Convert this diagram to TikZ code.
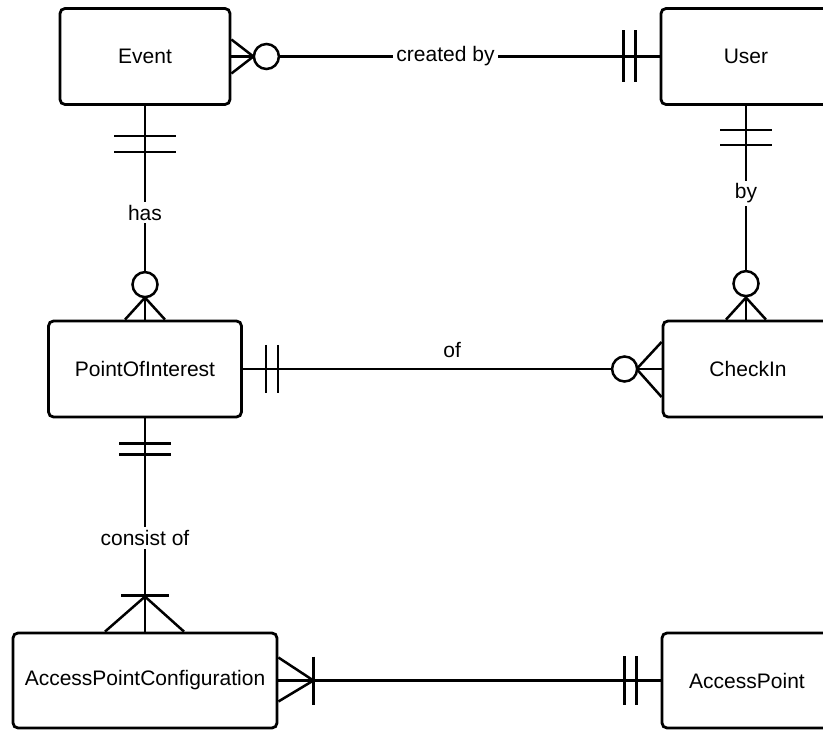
\documentclass[tikz,border=0pt]{standalone}
\usepackage{fontspec}
\setmainfont{Liberation Sans}
\usetikzlibrary{calc}
\begin{document}
\begin{tikzpicture}[x=1pt,y=-1pt,
  entity/.style={draw, rounded corners=5pt, minimum width=170pt, minimum height=96pt,
    inner sep=0pt, line width=2.8pt, font=\fontsize{21}{25}\selectfont},
  rel/.style={draw, line width=2.5pt},
  lbl/.style={fill=white, inner sep=3pt, font=\fontsize{21}{25}\selectfont},
  ring/.style={draw, fill=white, line width=2.5pt}]
\useasboundingbox (0,0) rectangle (823,730);

% entities
\node[entity] (ev)  at (145,56.5)  {Event};
\node[entity] (us)  at (746,56.5)  {User};
\node[entity, minimum width=193pt] (poi) at (145,369) {PointOfInterest};
\node[entity] (ci)  at (748,369)   {CheckIn};
\node[entity, minimum width=264pt, minimum height=95pt] (apc) at (145,680.5) {AccessPointConfiguration};
\node[entity, minimum height=95pt] (ap) at (747,680.5) {AccessPoint};

% Event (zero or many) -- User (exactly one)
\draw[rel] (ev.east) -- node[lbl]{created by} (us.west);
\draw[rel] ($(ev.east)+(0,-17)$) -- ($(ev.east)+(22,0)$) -- ($(ev.east)+(0,17)$);
\draw[ring] ($(ev.east)+(35,0)$) circle (12.5pt);
\draw[rel] ($(us.west)+(-36,-26)$) -- ++(0,52);
\draw[rel] ($(us.west)+(-24,-26)$) -- ++(0,52);

% Event (exactly one) -- PointOfInterest (zero or many)
\draw[rel] (ev.south) -- node[lbl, pos=0.5]{has} (poi.north);
\draw[rel] ($(ev.south)+(-31,30)$) -- ++(62,0);
\draw[rel] ($(ev.south)+(-31,46)$) -- ++(62,0);
\draw[rel] ($(poi.north)+(-20,0)$) -- ($(poi.north)+(0,-22)$) -- ($(poi.north)+(20,0)$);
\draw[ring] ($(poi.north)+(0,-35)$) circle (12.5pt);

% User (exactly one) -- CheckIn (zero or many)
\draw[rel] (us.south) -- node[lbl, pos=0.41]{by} (us.south |- ci.north);
\draw[rel] ($(us.south)+(-26,24)$) -- ++(52,0);
\draw[rel] ($(us.south)+(-26,39)$) -- ++(52,0);
\coordinate (cit) at (us.south |- ci.north);
\draw[rel] ($(cit)+(-20,0)$) -- ($(cit)+(0,-22)$) -- ($(cit)+(20,0)$);
\draw[ring] ($(cit)+(0,-36)$) circle (12.5pt);

% PointOfInterest (exactly one) -- CheckIn (zero or many)
\draw[rel] (poi.east) -- node[midway, yshift=19pt, font=\fontsize{21}{25}\selectfont]{of} (ci.west);
\draw[rel] ($(poi.east)+(23,-24)$) -- ++(0,48);
\draw[rel] ($(poi.east)+(35,-24)$) -- ++(0,48);
\draw[rel] ($(ci.west)+(0,-27)$) -- ($(ci.west)+(-25,0)$) -- ($(ci.west)+(0,28)$);
\draw[ring] ($(ci.west)+(-37,0)$) circle (12.5pt);

% PointOfInterest (exactly one) -- AccessPointConfiguration (one or many)
\draw[rel] (poi.south) -- node[lbl, pos=0.56]{consist of} (apc.north);
\draw[rel] ($(poi.south)+(-26,25)$) -- ++(52,0);
\draw[rel] ($(poi.south)+(-26,36)$) -- ++(52,0);
\draw[rel] ($(apc.north)+(-40,0)$) -- ($(apc.north)+(0,-35)$) -- ($(apc.north)+(39,0)$);
\draw[rel] ($(apc.north)+(-24,-36)$) -- ++(48,0);

% AccessPointConfiguration (one or many) -- AccessPoint (exactly one)
\draw[rel] (apc.east) -- (ap.west);
\draw[rel] ($(apc.east)+(0,-23)$) -- ($(apc.east)+(35,0)$) -- ($(apc.east)+(0,21)$);
\draw[rel] ($(apc.east)+(35,-24)$) -- ++(0,48);
\draw[rel] ($(ap.west)+(-36,-24.5)$) -- ++(0,49);
\draw[rel] ($(ap.west)+(-24,-24.5)$) -- ++(0,49);
\end{tikzpicture}
\end{document}
